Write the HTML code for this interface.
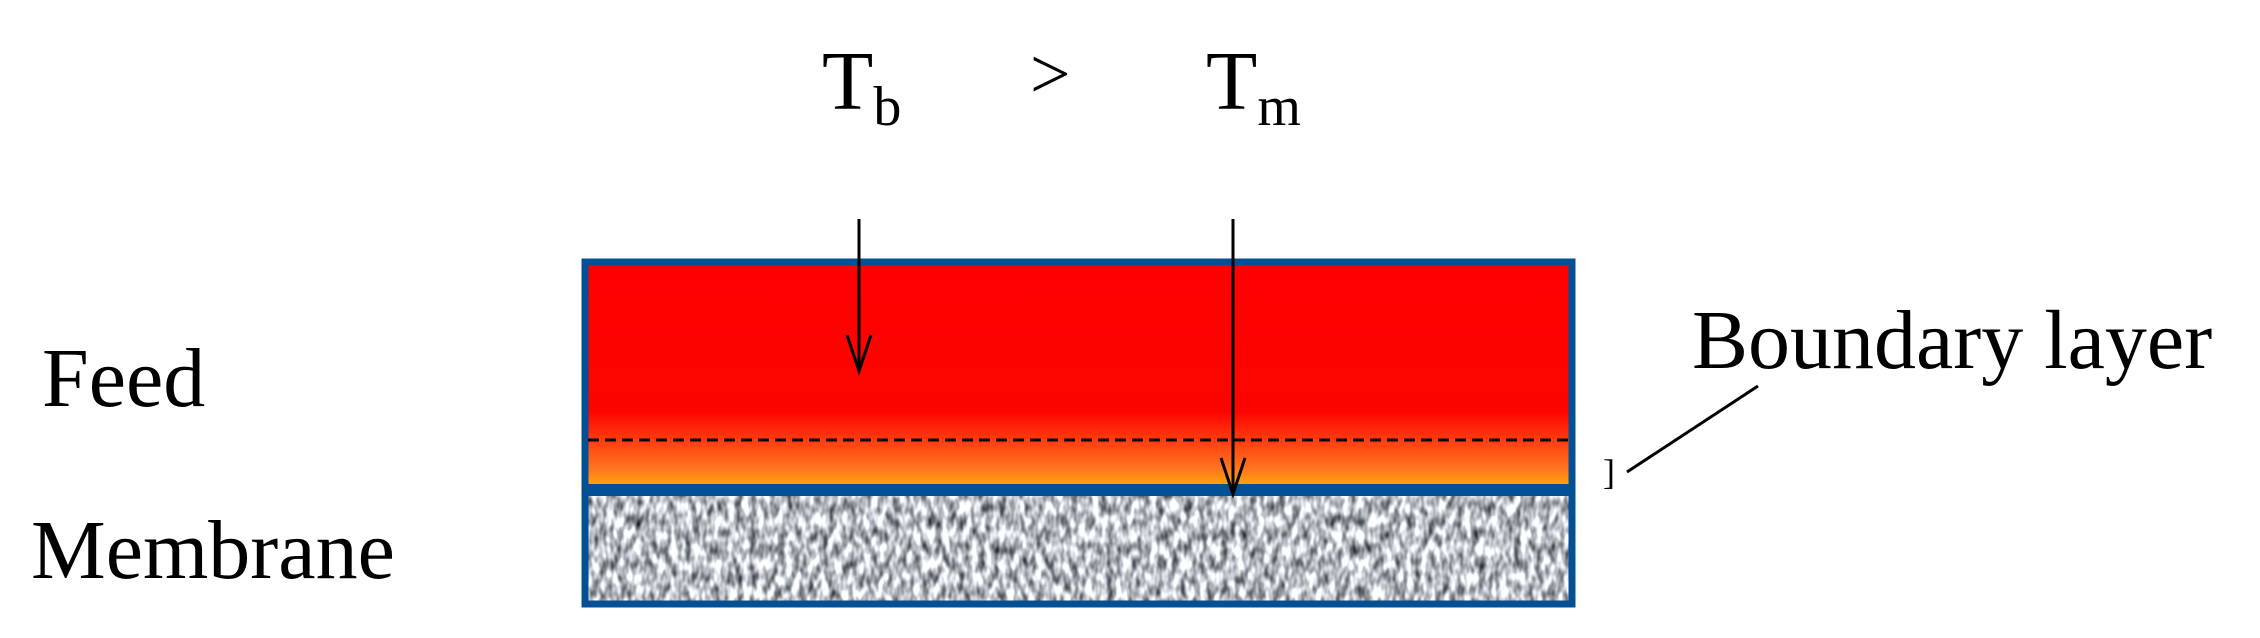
<!DOCTYPE html>
<html><head><meta charset="utf-8"><style>
html,body{margin:0;padding:0;background:#fff;width:2260px;height:638px;overflow:hidden}
text{font-family:"Liberation Serif",serif;fill:#000}
</style></head><body>
<svg width="2260" height="638" viewBox="0 0 2260 638">
<defs>
<linearGradient id="feedGrad" x1="0" y1="0" x2="0" y2="1">
<stop offset="0" stop-color="#ff0000"/>
<stop offset="0.66" stop-color="#fb0500"/>
<stop offset="0.78" stop-color="#ff3a10"/>
<stop offset="0.92" stop-color="#ff7a20"/>
<stop offset="1" stop-color="#ffb000"/>
</linearGradient>
<filter id="noise" x="0" y="0" width="100%" height="100%" color-interpolation-filters="sRGB">
<feTurbulence type="fractalNoise" baseFrequency="0.14 0.07" numOctaves="2" seed="5"/>
<feColorMatrix type="matrix" values="0 0 0 1 0  0 0 0 1 0  0 0 0 1 0  0 0 0 0 1"/>
<feComponentTransfer><feFuncR type="linear" slope="1.5" intercept="-0.02"/><feFuncG type="linear" slope="1.5" intercept="0"/><feFuncB type="linear" slope="1.5" intercept="0.02"/></feComponentTransfer>
</filter>
</defs>
<g>
<rect x="585" y="262" width="987" height="227" fill="url(#feedGrad)" stroke="#045094" stroke-width="7"/>
</g>
<line x1="588" y1="440" x2="1570" y2="440" stroke="#000" stroke-width="3" stroke-dasharray="11,6"/>
<g>
<rect x="588" y="494" width="981" height="107" fill="#bbb" filter="url(#noise)"/>
<rect x="585" y="491" width="987" height="113" fill="none" stroke="#045094" stroke-width="7"/>
<rect x="582" y="484" width="993" height="12" fill="#045094"/>
</g>
<g stroke="#000" stroke-width="3" fill="none">
<line x1="859" y1="219" x2="859" y2="370"/>
<polyline points="847,335 859,371 871,335"/>
</g>
<g stroke="#000" stroke-width="3" fill="none">
<line x1="1233" y1="219" x2="1233" y2="493"/>
<polyline points="1221,458 1233,494 1245,458"/>
</g>
<text x="822" y="109" font-size="84">T<tspan font-size="56" dy="16">b</tspan></text>
<text x="1030" y="98" font-size="72">&gt;</text>
<text x="1206" y="109" font-size="84">T<tspan font-size="56" dy="16">m</tspan></text>
<text x="42" y="406" font-size="84">Feed</text>
<text x="31" y="578" font-size="84">Membrane</text>
<text x="1692" y="368" font-size="84">Boundary layer</text>
<line x1="1758" y1="386" x2="1627" y2="472" stroke="#000" stroke-width="3"/>
<text x="1603" y="484" font-size="36">]</text>
</svg>
</body></html>
